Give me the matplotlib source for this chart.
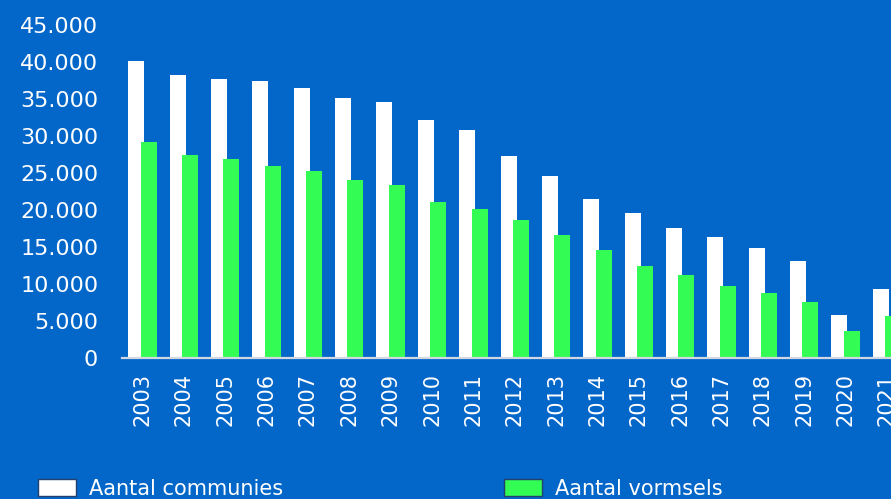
import numpy as np
import matplotlib
matplotlib.use("Agg")
import matplotlib.pyplot as plt
import matplotlib.patches as mpatches
from matplotlib.ticker import FuncFormatter

# data
jaren = ['2003', '2004', '2005', '2006', '2007', '2008', '2009', '2010', '2011', '2012',
         '2013', '2014', '2015', '2016', '2017', '2018', '2019', '2020', '2021']
communies = [40200, 38300, 37650, 37400, 36500, 35200, 34650, 32200, 30800, 27250,
             24550, 21500, 19650, 17600, 16400, 14900, 13100, 5800, 9300]
vormsels = [29200, 27400, 26900, 25900, 25250, 24000, 23400, 21050, 20200, 18650,
            16600, 14600, 12450, 11200, 9700, 8800, 7600, 3600, 5650]

achtergrond = '#0366c9'
wit = '#ffffff'
groen = '#33fd55'

plt.rcParams['font.family'] = ['DejaVu Sans']

fig = plt.figure(figsize=(8.91, 4.99), dpi=100, facecolor=achtergrond)
ax = fig.add_axes([0.1367, 0.2826, 0.882, 0.6673])
ax.set_facecolor(achtergrond)

x = np.arange(len(jaren))
breedte = 0.387
ax.bar(x - 0.15, communies, breedte, color=wit, linewidth=0)
ax.bar(x + 0.15, vormsels, breedte, color=groen, linewidth=0)

ax.set_xlim(-0.5, 18.5)
ax.set_ylim(0, 45000)
ax.set_yticks(np.arange(0, 45001, 5000))
ax.yaxis.set_major_formatter(FuncFormatter(lambda v, p: f"{int(v):,}".replace(',', '.')))
ax.set_xticks(x)
ax.set_xticklabels(jaren, rotation=90)

ax.tick_params(axis='y', length=0, pad=17, labelsize=16, labelcolor='white')
ax.tick_params(axis='x', length=0, pad=11, labelsize=15, labelcolor='white')

for kant in ['top', 'right', 'left']:
    ax.spines[kant].set_visible(False)
ax.spines['bottom'].set_color('#d3d8e0')
ax.spines['bottom'].set_linewidth(1.6)

# legenda onderaan
em = 15 * 100 / 72
for kleur, tekst, xpos in [(wit, 'Aantal communies', 37.7), (groen, 'Aantal vormsels', 504)]:
    h = mpatches.Patch(facecolor=kleur, edgecolor='#23406e', linewidth=1)
    fig.legend(handles=[h], labels=[tekst], loc='center left',
               bbox_to_anchor=(xpos / 891, 0.02), frameon=False,
               borderpad=0, borderaxespad=0,
               handlelength=38 / em, handleheight=18.3 / em, handletextpad=13 / em,
               fontsize=15, labelcolor='white')

fig.savefig('out.png', dpi=100, facecolor=achtergrond)
